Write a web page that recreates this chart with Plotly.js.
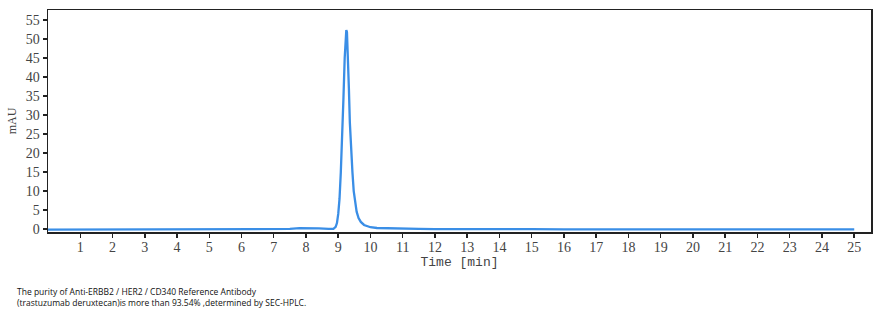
<!DOCTYPE html>
<html>
<head>
<meta charset="utf-8">
<script src="https://cdn.plot.ly/plotly-3.0.1.min.js"></script>
<style>html,body{margin:0;padding:0;background:#fff;}#chart{width:890px;height:316px;}</style>
</head>
<body>
<div id="chart"></div>
<script>
const timeMin = [0,0.5,1,1.5,2,2.5,3,3.5,4,4.5,5,5.5,6,6.5,7,7.5,7.8,8.1,8.4,8.7,8.85,8.92,8.96,9.0,9.04,9.08,9.12,9.16,9.2,9.23,9.25,9.27,9.3,9.33,9.36,9.4,9.44,9.48,9.52,9.57,9.63,9.7,9.8,9.9,10.0,10.2,10.5,11,11.5,12,12.5,13,13.5,13.9,14.3,15,16,17,18,19,20,21,22,23,24,25];
const signalMAU = [-0.1,-0.1,0,-0.05,-0.1,0,-0.1,-0.1,-0.05,-0.1,-0.1,-0.05,-0.1,-0.1,-0.1,0.05,0.25,0.3,0.2,0.05,0.1,0.6,1.6,4,8,15,23,34,45,50.5,52.3,51.8,46,37,28,20.5,15,10,7,4.6,2.9,1.9,1.1,0.75,0.5,0.3,0.2,0.1,0.05,0,0,0,0.05,0.15,0.05,0,-0.05,-0.05,-0.05,-0.05,-0.05,-0.05,-0.05,-0.05,-0.05,-0.05];
const xTicks = [1,2,3,4,5,6,7,8,9,10,11,12,13,14,15,16,17,18,19,20,21,22,23,24,25];
const yTicks = [0,5,10,15,20,25,30,35,40,45,50,55];
const xLabel = 'Time [min]';
const yLabel = 'mAU';
const caption = 'The purity of Anti-ERBB2 / HER2 / CD340 Reference Antibody<br>(trastuzumab deruxtecan)is more than 93.54% ,determined by SEC-HPLC.';

const tickFont = {family: 'Liberation Serif, serif', size: 14, color: '#444'};
const trace = {
  x: timeMin, y: signalMAU, type: 'scatter', mode: 'lines',
  line: {color: '#3a8ee6', width: 2.3}, hoverinfo: 'skip'
};
const layout = {
  width: 890, height: 316,
  margin: {l: 48, r: 19, t: 10, b: 84},
  paper_bgcolor: '#fff', plot_bgcolor: '#fff',
  showlegend: false,
  xaxis: {
    range: [0, 25.52], tickvals: xTicks, ticktext: xTicks.map(String),
    ticks: 'outside', ticklen: 4, tickwidth: 1.5, tickcolor: '#222',
    showline: true, linecolor: '#222', linewidth: 1.5, mirror: true,
    showgrid: false, zeroline: false, tickfont: tickFont, ticklabelstandoff: -2,
    title: {text: xLabel, font: {family: 'Liberation Mono, monospace', size: 13, color: '#444'}, standoff: 0}
  },
  yaxis: {
    range: [-0.75, 57.6], tickvals: yTicks, ticktext: yTicks.map(String),
    ticks: 'outside', ticklen: 4, tickwidth: 1.5, tickcolor: '#222',
    showline: true, linecolor: '#222', linewidth: 1.5, mirror: true,
    showgrid: false, zeroline: false, tickfont: tickFont,
    title: {text: yLabel, font: {family: 'Liberation Serif, serif', size: 12, color: '#444'}, standoff: 6}
  },
  annotations: [{
    text: caption, xref: 'paper', yref: 'paper', x: -0.0401, y: -0.235,
    xanchor: 'left', yanchor: 'top', align: 'left', showarrow: false,
    font: {family: 'Open Sans, sans-serif', size: 8.5, color: '#111'}
  }]
};
Plotly.newPlot('chart', [trace], layout, {staticPlot: true, displayModeBar: false});
</script>
</body>
</html>
